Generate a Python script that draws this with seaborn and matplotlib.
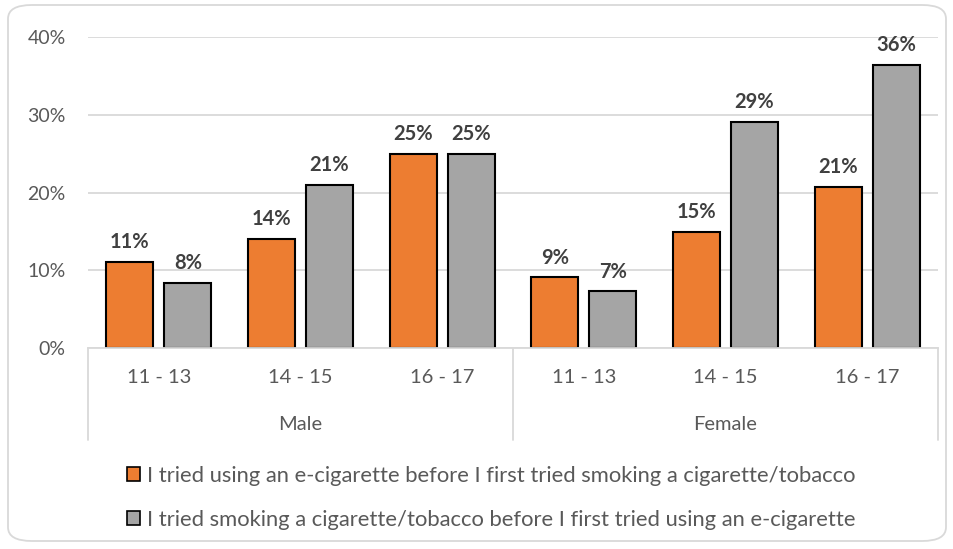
import numpy as np
import pandas as pd
import matplotlib.pyplot as plt
import seaborn as sns
from matplotlib.patches import Rectangle, FancyBboxPatch

# Data
genders = ['Male', 'Female']
ages = ['11 - 13', '14 - 15', '16 - 17']
series = ['I tried using an e-cigarette before I first tried smoking a cigarette/tobacco',
          'I tried smoking a cigarette/tobacco before I first tried using an e-cigarette']
ecig_first = [0.111, 0.140, 0.250, 0.091, 0.149, 0.207]
tobacco_first = [0.084, 0.210, 0.250, 0.073, 0.291, 0.364]
colors = ['#ED7D31', '#A5A5A5']

groups = [f'{g} {a}' for g in genders for a in ages]
df = pd.DataFrame({
    'group': groups * 2,
    'value': ecig_first + tobacco_first,
    'series': [series[0]] * 6 + [series[1]] * 6,
})

sns.set_style('white')
plt.rcParams['font.family'] = ['Lato', 'DejaVu Sans']

fig = plt.figure(figsize=(9.54, 5.49), dpi=100)
ax = fig.add_axes([88/954, 1 - 348/549, (938-88)/954, (348-37)/549])

sns.barplot(data=df, x='group', y='value', hue='series', order=groups,
            hue_order=series, palette=colors, width=0.817, gap=0.19,
            edgecolor='black', linewidth=1.5, saturation=1, legend=False, ax=ax)

for cont in ax.containers:
    ax.bar_label(cont, labels=[f'{v:.0%}' for v in cont.datavalues],
                 padding=7, fontsize=14.5, fontweight='bold', color='#404040')

ax.set_ylim(0, 0.4)
ax.set_xlim(-0.5, 5.5)
ax.set_yticks([0, 0.1, 0.2, 0.3, 0.4])
ax.set_yticklabels(['0%', '10%', '20%', '30%', '40%'])
ax.set_xticks(range(6))
ax.set_xticklabels(ages * 2)
ax.tick_params(axis='y', length=0, pad=16, labelsize=14, labelcolor='#595959')
ax.tick_params(axis='x', length=0, pad=15, labelsize=14.5, labelcolor='#595959')
ax.set_xlabel('')
ax.set_ylabel('')
ax.yaxis.grid(True, color='#D9D9D9', linewidth=1.3)
ax.set_axisbelow(True)
for s in ['top', 'right', 'left']:
    ax.spines[s].set_visible(False)
ax.spines['bottom'].set_color('#D9D9D9')
ax.spines['bottom'].set_linewidth(1.3)

# multi-level category axis
trans = ax.get_xaxis_transform()
for xd in [-0.5, 2.5, 5.5]:
    ax.plot([xd, xd], [0, -92/311], color='#D9D9D9', lw=1.3,
            transform=trans, clip_on=False)
for i, g in enumerate(genders):
    ax.text(1 + 3*i, -77/311, g, transform=trans, ha='center', va='center',
            fontsize=14.5, color='#595959')

handles = [Rectangle((0, 0), 1, 1, facecolor=c, edgecolor='black', lw=1.2)
           for c in colors]
fig.legend(handles, series, loc='center', bbox_to_anchor=(491/954, 1 - 498/549),
           frameon=False, fontsize=15.8, labelcolor='#595959', handlelength=0.6,
           handleheight=0.6, handletextpad=0.3, labelspacing=1.1)

fig.patches.append(FancyBboxPatch((8/954, 8/549), 938/954, 536/549,
                                  boxstyle='round,pad=0,rounding_size=0.025',
                                  transform=fig.transFigure, facecolor='none',
                                  edgecolor='#D9D9D9', lw=1.3))

plt.savefig('out.png', dpi=100)
